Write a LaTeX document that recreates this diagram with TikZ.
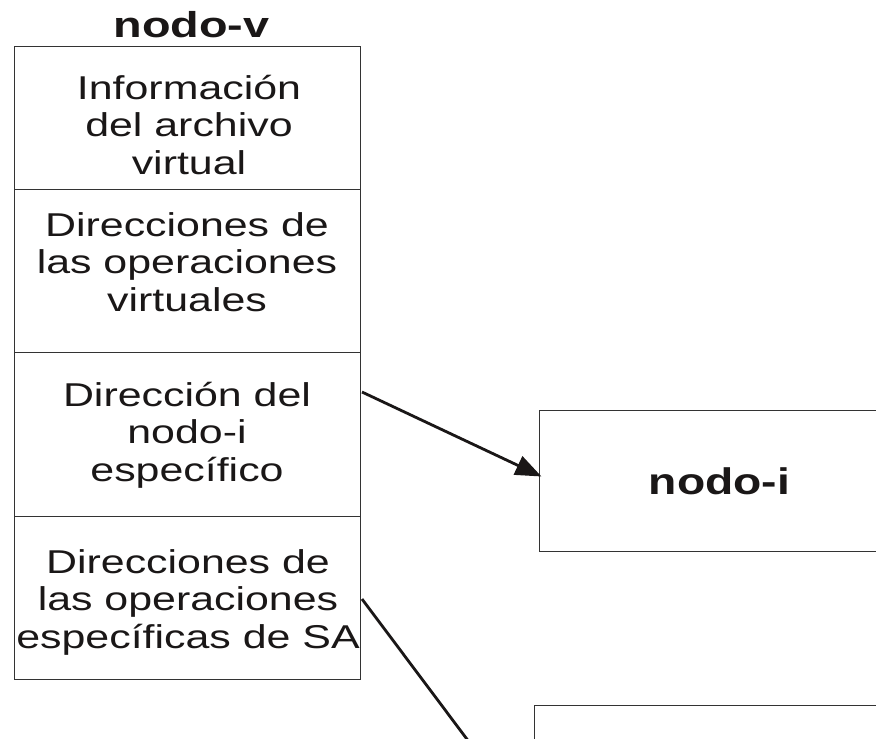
\documentclass[tikz,border=0pt]{standalone}
\usepackage{fontspec}
\setmainfont{Liberation Sans}
\usetikzlibrary{arrows.meta,calc}
\definecolor{ink}{HTML}{1A1717}
\definecolor{boxgray}{HTML}{333333}
\newcommand{\wtext}[2]{\scalebox{#1}[1]{\begin{tabular}[t]{@{}c@{}}#2\end{tabular}}}
\begin{document}
\begin{tikzpicture}[x=1pt,y=-1pt,
  cell/.style={draw=boxgray, line width=1pt, minimum width=346pt, inner sep=0pt},
  bigbox/.style={draw=boxgray, line width=1pt, inner sep=0pt},
  txt/.style={anchor=base, inner sep=0pt, text=ink, font=\fontsize{33}{37.5}\selectfont},
  title/.style={anchor=base, inner sep=0pt, text=ink},
  conn/.style={draw=ink, line width=2.8pt}]
\useasboundingbox (0,0) rectangle (876,739);
\clip (0,0) rectangle (876,739);
\fill[white] (0,0) rectangle (876,739);

% nodo-v column
\node[cell, minimum height=143pt] (b1) at (187,117.5) {};
\node[cell, minimum height=163pt] (b2) at (187,270.5) {};
\node[cell, minimum height=164pt] (b3) at (187,434) {};
\node[cell, minimum height=163pt] (b4) at (187,597.5) {};

\node[title, font=\bfseries\fontsize{36}{40}\selectfont] (tv) at (191.5,37) {\scalebox{1.3}[1]{nodo-v}};

\node[txt] (t1) at (189,99) {\wtext{1.30}{Información\\del archivo\\virtual}};
\node[txt] (t2) at (187,236) {\wtext{1.30}{Direcciones de\\las operaciones\\virtuales}};
\node[txt] (t3) at (187,406) {\wtext{1.30}{Dirección del\\nodo-i\\específico}};
\node[txt] (t4) at (188,573) {\wtext{1.30}{Direcciones de\\las operaciones\\específicas de SA}};

% right boxes
\node[bigbox, minimum width=421pt, minimum height=141pt] (ni) at (749.5,480.5) {};
\node[title, font=\bfseries\fontsize{37}{42}\selectfont] (tni) at (719.5,494) {\scalebox{1.25}[1]{nodo-i}};
\node[bigbox, minimum width=426pt, minimum height=246pt] (s2) at (747,828) {};

% connectors
\coordinate (a1) at (362,392);
\coordinate (a2) at (362,599);
\draw[conn, -{Triangle[length=26pt,width=20pt]}] (a1) -- ($(ni.west)+(3,-4)$);
\draw[conn, -{Triangle[length=26pt,width=20pt]}] (a2) -- (s2.west);
\end{tikzpicture}
\end{document}
